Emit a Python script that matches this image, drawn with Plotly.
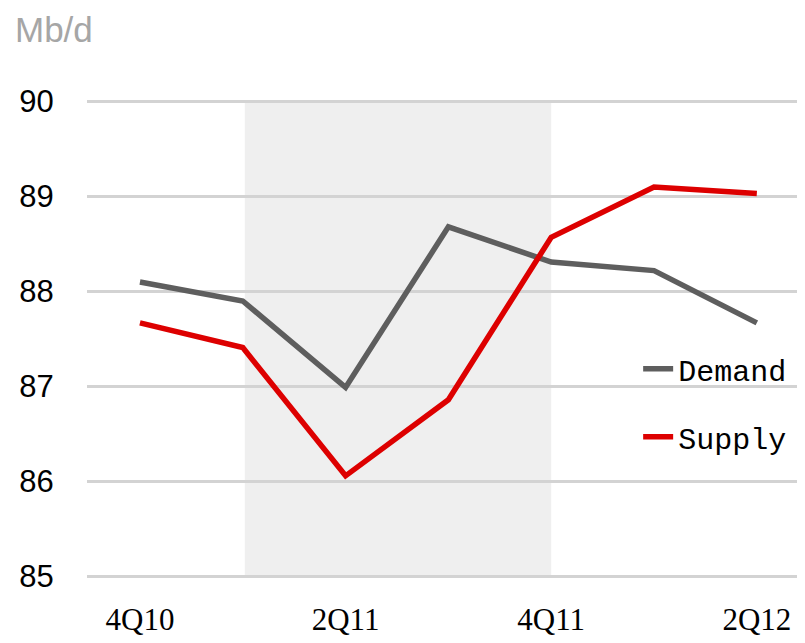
import plotly.graph_objects as go

quarters = ["4Q10", "1Q11", "2Q11", "3Q11", "4Q11", "1Q12", "2Q12"]
demand = [88.1, 87.9, 86.99, 88.68, 88.31, 88.22, 87.67]
supply = [87.67, 87.41, 86.06, 86.86, 88.57, 89.1, 89.03]
tick_labels = ["4Q10", "2Q11", "4Q11", "2Q12"]
y_ticks = [85, 86, 87, 88, 89, 90]
shade_from, shade_to = "1Q11", "4Q11"

fig = go.Figure()
fig.add_trace(go.Scatter(x=quarters, y=demand, mode="lines", name="Demand",
                         line=dict(color="#5e5e5e", width=5.5), legendgroup="d"))
fig.add_trace(go.Scatter(x=quarters, y=supply, mode="lines", name="Supply",
                         line=dict(color="#dd0000", width=5.5), legendgroup="s"))

i0, i1 = quarters.index(shade_from), quarters.index(shade_to)
fig.add_shape(type="rect", xref="x", yref="y", x0=i0 + 0.02, x1=i1, y0=85, y1=90,
              fillcolor="#efefef", line=dict(width=0), layer="below")

fig.update_layout(
    width=797, height=635,
    margin=dict(l=79, r=5, t=92, b=65, autoexpand=False),
    paper_bgcolor="white", plot_bgcolor="white",
    showlegend=True,
    legend=dict(x=0.773, y=0.492, xanchor="left", yanchor="top",
                font=dict(family="Liberation Mono", size=30, color="black"),
                bgcolor="rgba(0,0,0,0)", tracegroupgap=26, traceorder="grouped",
                itemwidth=30),
    xaxis=dict(type="category", range=[-0.515, 6.42], tickmode="array",
               tickvals=tick_labels, ticktext=tick_labels, showgrid=False,
               ticks="outside", ticklen=14, tickcolor="rgba(0,0,0,0)",
               tickfont=dict(family="Liberation Serif", size=31, color="black"),
               showline=False, zeroline=False, automargin=False),
    yaxis=dict(range=[84.985, 90.015], tickvals=y_ticks, showgrid=True,
               gridcolor="#d3d3d3", gridwidth=3, zeroline=False,
               ticks="outside", ticklen=26, tickcolor="rgba(0,0,0,0)",
               tickfont=dict(family="Liberation Sans", size=31, color="black"),
               automargin=False),
    annotations=[dict(text="Mb/d", xref="paper", yref="paper", x=-0.104, y=1.148,
                      xanchor="left", yanchor="middle", showarrow=False,
                      font=dict(family="Liberation Sans", size=35, color="#a6a6a6"))],
)

fig.write_html("out.html")
